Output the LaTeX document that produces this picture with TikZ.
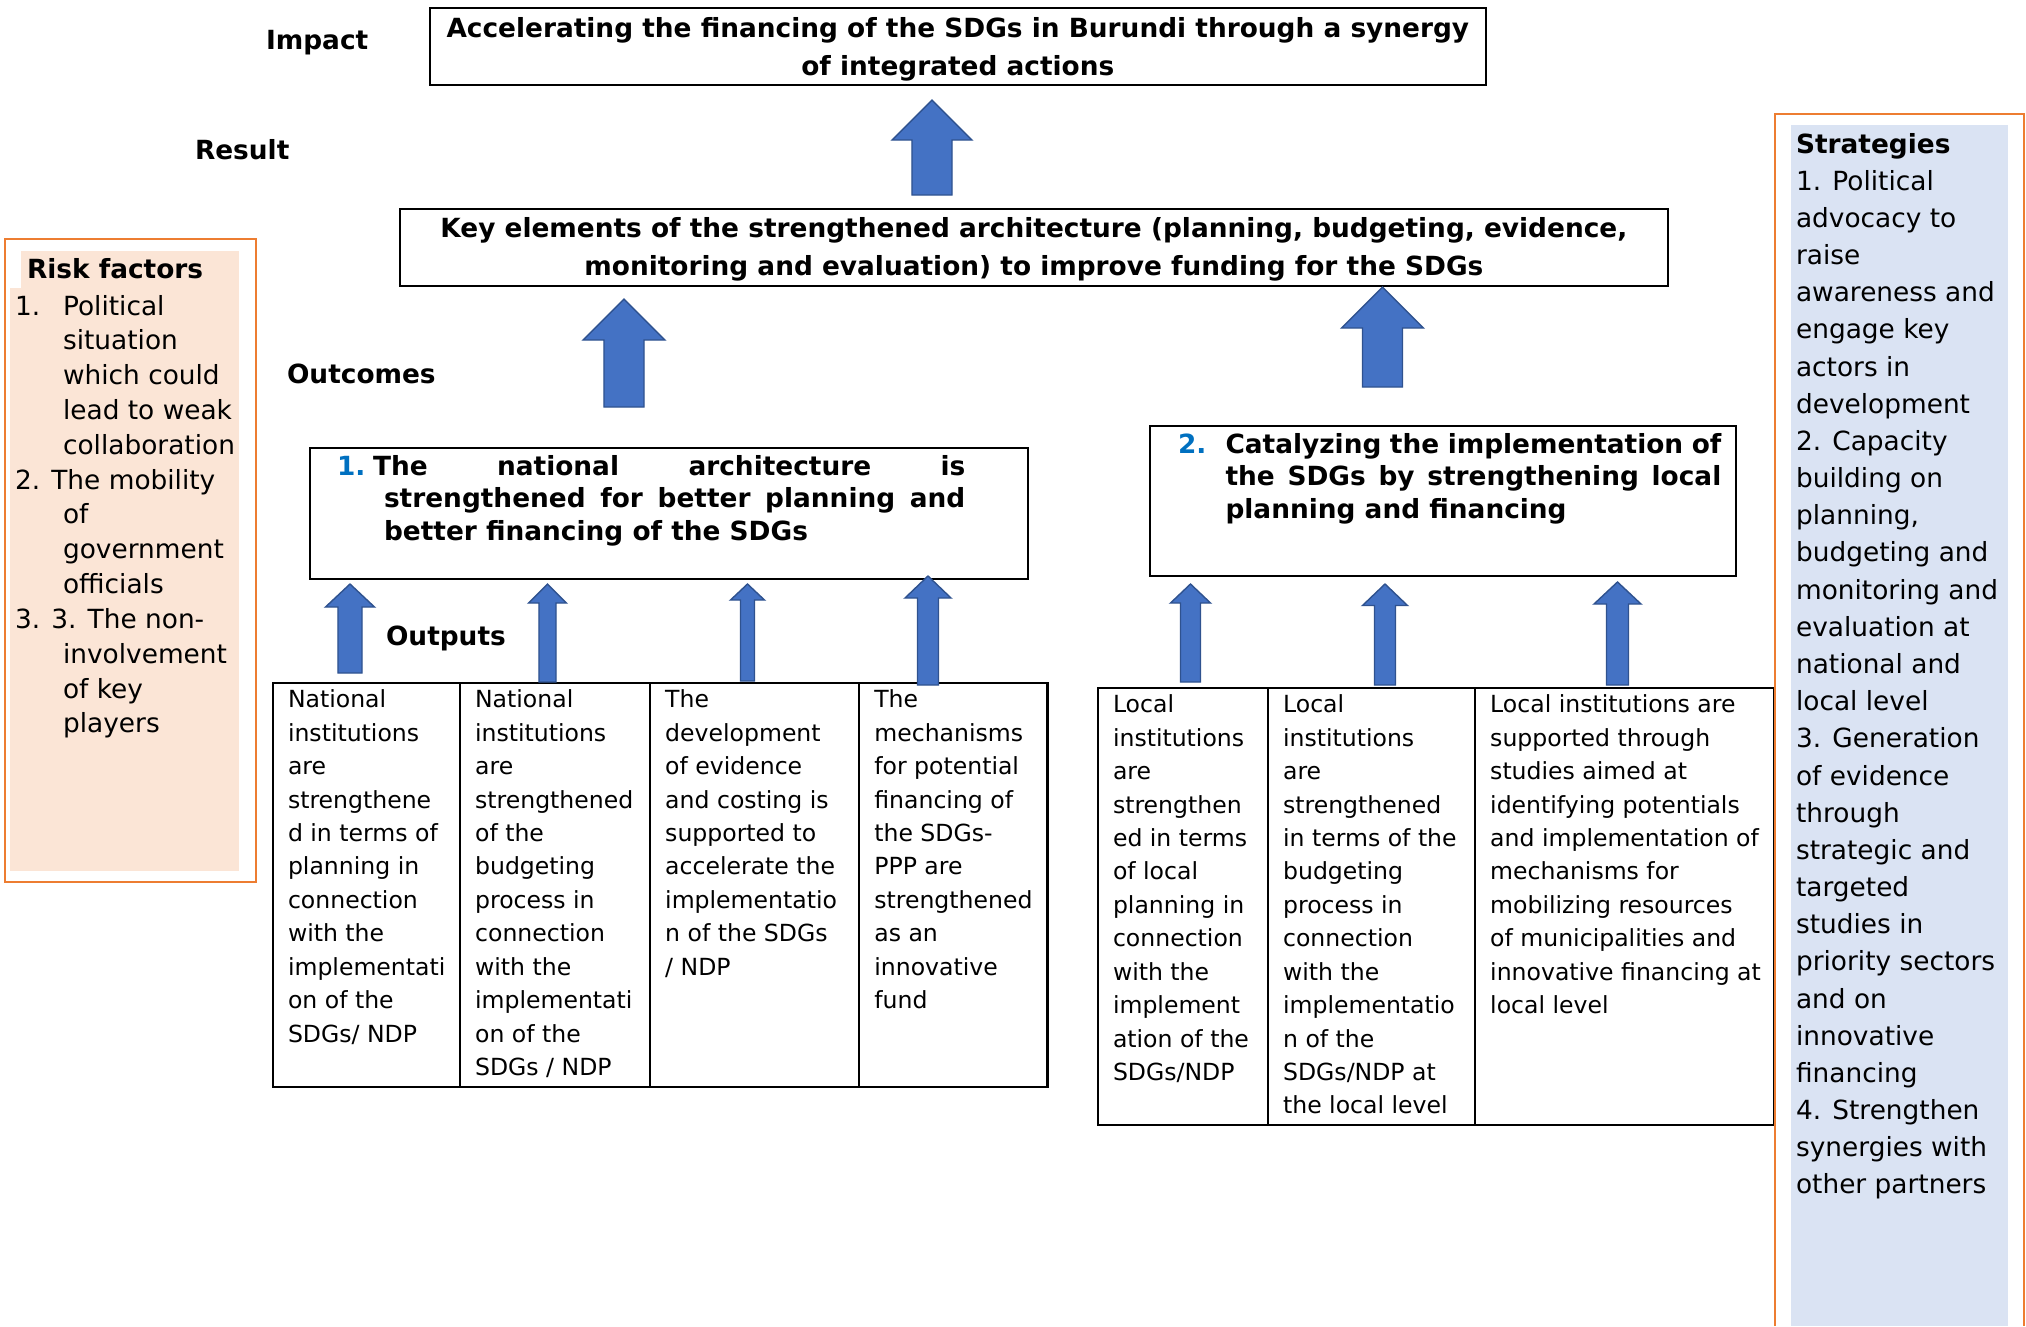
\documentclass[tikz,border=0pt]{standalone}
\usepackage{fontspec}
\setmainfont{DejaVu Sans}
\usetikzlibrary{calc}
\definecolor{arrowblue}{HTML}{4472C4}
\definecolor{arrowedge}{HTML}{2F528F}
\definecolor{numblue}{HTML}{0070C0}
\definecolor{frameorange}{HTML}{ED7D31}
\definecolor{riskfill}{HTML}{FBE5D6}
\definecolor{stratfill}{HTML}{DAE3F3}
\tikzset{
  every picture/.style={line width=0.6pt},
  box/.style={draw, inner sep=0pt, outer sep=0pt, anchor=north west},
  title/.style={font=\bfseries\fontsize{7.5}{10.7}\selectfont},
  outcome/.style={box, inner ysep=0.75mm, font=\bfseries\fontsize{7.5}{9.2}\selectfont},
  cell/.style={inner sep=0pt, outer sep=0pt, anchor=north west, inner ysep=0.7mm, font=\fontsize{6.7}{9.5}\selectfont},
  level/.style={inner sep=0pt, anchor=base west, font=\bfseries\fontsize{7.5}{9}\selectfont},
  sidetext/.style={inner sep=0pt, anchor=north west, align=left},
  blockarrow/.style={fill=arrowblue, draw=arrowedge, line width=0.4pt}
}
% #1 foot, #2 tip, #3 half shaft, #4 half head, #5 head length
\newcommand{\blockup}[5]{%
  \draw[blockarrow] let \p1=(#1), \p2=(#2) in
    (\x1-#3,\y1) -- (\x1-#3,\y2-#5) -- (\x1-#4,\y2-#5) -- (\x1,\y2)
    -- (\x1+#4,\y2-#5) -- (\x1+#3,\y2-#5) -- (\x1+#3,\y1) -- cycle;}
\newcommand{\cellbox}[3]{\parbox[c][#2][t]{#1}{\raggedright\leftskip=1.5mm #3}}
\newcommand{\ritem}[1]{\makebox[4.8mm][l]{#1}}
\newcommand{\rcont}{\hspace*{4.8mm}}

\begin{document}
\begin{tikzpicture}[x=0.01cm, y=-0.01cm]
  \useasboundingbox (0,0) rectangle (2026,1326);

  % side panels
  \fill[riskfill] (21,251) rectangle (239,288);
  \fill[riskfill] (10,288) rectangle (239,871);
  \draw[frameorange, line width=0.8pt] (5,239) rectangle (256,882);
  \fill[stratfill] (1791,125) rectangle (2008,1326);

  \node[sidetext, font=\fontsize{7.5}{9.9}\selectfont] (risk) at (14,257) {%
    \hspace*{1.2mm}\textbf{Risk factors}\\[0.6pt]
    \ritem{1.}Political\\
    \rcont situation\\
    \rcont which could\\
    \rcont lead to weak\\
    \rcont collaboration\\
    2. The mobility\\
    \rcont of\\
    \rcont government\\
    \rcont officials\\
    3. 3. The non-\\
    \rcont involvement\\
    \rcont of key\\
    \rcont players};

  % level labels
  \node[level] (impactlbl) at (265,49) {Impact};
  \node[level] (resultlbl) at (194,159) {Result};
  \node[level] (outcomelbl) at (286,383) {Outcomes};
  \node[level] (outputlbl) at (385,645) {Outputs};

  \node[box, title, align=center, minimum width=105.5mm, minimum height=7.7mm] (impact) at (430,8)
    {\rule{0pt}{2.5mm}Accelerating the financing of the SDGs in Burundi through a synergy\\of integrated actions};
  \node[box, title, align=center, minimum width=126.7mm, minimum height=7.7mm] (keyel) at (400,209)
    {\rule{0pt}{2.4mm}Key elements of the strengthened architecture (planning, budgeting, evidence,\\monitoring and evaluation) to improve funding for the SDGs};

  % outcomes
  \node[outcome] (outc1) at (310,448) {\parbox[c][11.6mm][t]{71.8mm}{%
    \hspace*{2.7mm}\makebox[3.6mm][l]{\color{numblue}1.}\makebox[59.2mm][s]{The national architecture is}\\
    \hspace*{7.4mm}\makebox[58.1mm][s]{strengthened for better planning and}\\
    \hspace*{7.4mm}better financing of the SDGs}};
  \node[outcome] (outc2) at (1150,426) {\parbox[c][13.5mm][t]{58.6mm}{%
    \hspace*{2.8mm}\makebox[4.75mm][l]{\color{numblue}2.}\makebox[49.55mm][s]{Catalyzing the implementation of}\\
    \hspace*{7.55mm}\makebox[49.55mm][s]{the SDGs by strengthening local}\\
    \hspace*{7.55mm}planning and financing}};

  % outputs
  \node[cell] (t1c1) at (273,683) {\cellbox{18.7mm}{39mm}{National\\institutions\\are\\strengthene\\d in terms of\\planning in\\connection\\with the\\implementati\\on of the\\SDGs/ NDP}};
  \node[cell] (t1c2) at (t1c1.north east) {\cellbox{19mm}{39mm}{National\\institutions\\are\\strengthened\\of the\\budgeting\\process in\\connection\\with the\\implementati\\on of the\\SDGs / NDP}};
  \node[cell] (t1c3) at (t1c2.north east) {\cellbox{20.9mm}{39mm}{The\\development\\of evidence\\and costing is\\supported to\\accelerate the\\implementatio\\n of the SDGs\\/ NDP}};
  \node[cell] (t1c4) at (t1c3.north east) {\cellbox{18.8mm}{39mm}{The\\mechanisms\\for potential\\financing of\\the SDGs-\\PPP are\\strengthened\\as an\\innovative\\fund}};
  \draw (t1c1.north west) rectangle (t1c4.south east);
  \foreach \c in {t1c2,t1c3,t1c4}
    \draw (\c.north west) -- (\c.south west);

  \node[cell] (t2c1) at (1098,688) {\cellbox{17mm}{42.3mm}{Local\\institutions\\are\\strengthen\\ed in terms\\of local\\planning in\\connection\\with the\\implement\\ation of the\\SDGs/NDP}};
  \node[cell] (t2c2) at (t2c1.north east) {\cellbox{20.7mm}{42.3mm}{Local\\institutions\\are\\strengthened\\in terms of the\\budgeting\\process in\\connection\\with the\\implementatio\\n of the\\SDGs/NDP at\\the local level}};
  \node[cell] (t2c3) at (t2c2.north east) {\cellbox{29.9mm}{42.3mm}{Local institutions are\\supported through\\studies aimed at\\identifying potentials\\and implementation of\\mechanisms for\\mobilizing resources\\of municipalities and\\innovative financing at\\local level}};
  \draw (t2c1.north west) rectangle (t2c3.south east);
  \foreach \c in {t2c2,t2c3}
    \draw (\c.north west) -- (\c.south west);

  % strategies
  \draw[frameorange, line width=0.8pt] (1775,1326) -- (1775,114) -- (2024,114) -- (2024,1326);
  \node[sidetext, font=\fontsize{7.5}{10.57}\selectfont] (strat) at (1795,132) {%
    \textbf{Strategies}\\1. Political\\advocacy to\\raise\\awareness and\\engage key\\actors in\\development\\
    2. Capacity\\building on\\planning,\\budgeting and\\monitoring and\\evaluation at\\national and\\local level\\
    3. Generation\\of evidence\\through\\strategic and\\targeted\\studies in\\priority sectors\\and on\\innovative\\financing\\
    4. Strengthen\\synergies with\\other partners};

  % block arrows
  \foreach \nm/\px/\pb/\pt/\sw/\hw/\hl in {
      res/932/195/100/2mm/4mm/4mm,
      oc1/624/407/299/2mm/4.1mm/4.1mm,
      oc2/1382.5/387/287/2mm/4.1mm/4.1mm,
      a1/350/673/584/1.2mm/2.45mm/2.3mm,
      a2/547.5/682/584/0.85mm/1.9mm/1.9mm,
      a3/747.5/681/584/0.7mm/1.7mm/1.6mm,
      a4/928/685/576/1.05mm/2.3mm/2.2mm,
      b1/1190.5/682/584/1mm/2mm/1.9mm,
      b2/1385/685/584/1.05mm/2.25mm/2.15mm,
      b3/1617.5/685/582/1.1mm/2.35mm/2.2mm}{
    \coordinate (\nm foot) at (\px,\pb);
    \coordinate (\nm tip) at (\px,\pt);
    \blockup{\nm foot}{\nm tip}{\sw}{\hw}{\hl}
  }
\end{tikzpicture}
\end{document}
